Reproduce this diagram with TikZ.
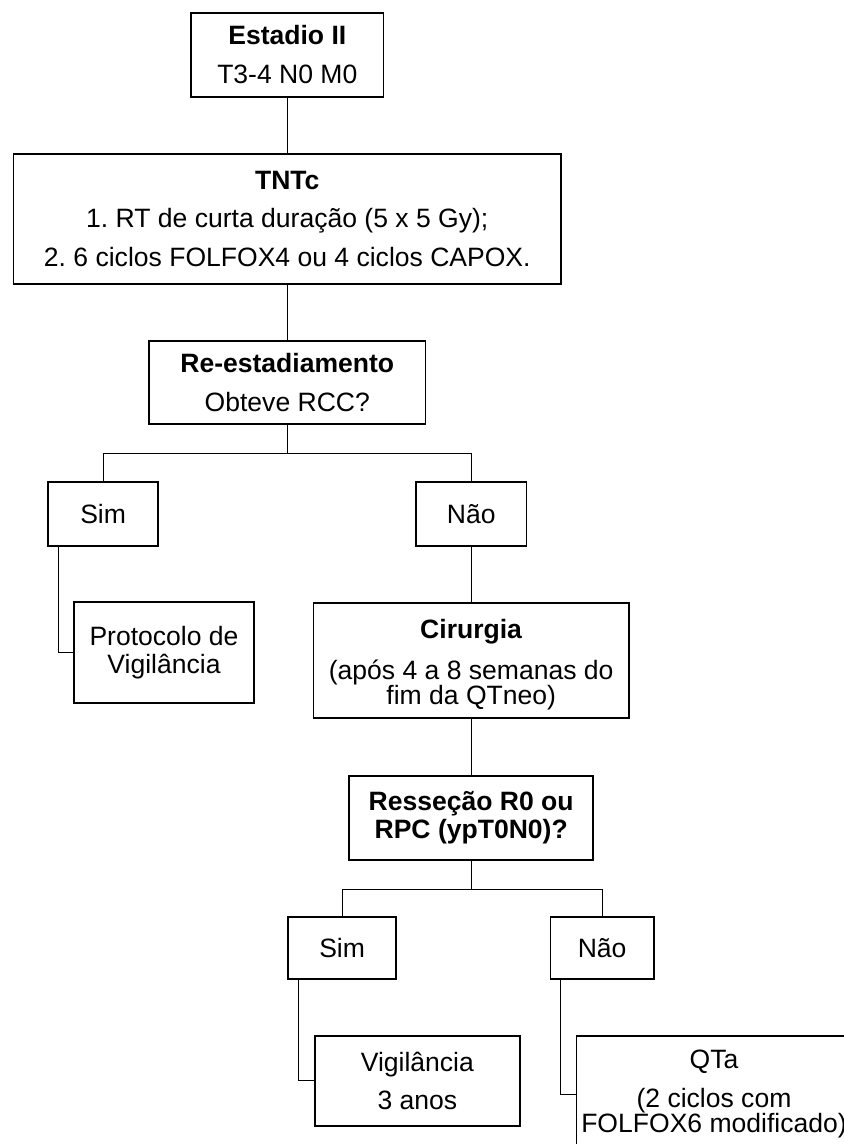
\documentclass[tikz,border=0pt]{standalone}
\usepackage{fontspec}
\setmainfont{Liberation Sans}
\usepackage{tikz}
\frenchspacing

\begin{document}
\begin{tikzpicture}[
	caixa/.style={draw,line width=0.95pt,align=center,inner sep=0pt,font=\fontsize{15.1pt}{21.9pt}\selectfont},
	liga/.style={line width=0.5pt}]
	\useasboundingbox (0,0) rectangle (16.88,-22.88);

	%top boxes
	\node[caixa,minimum width=3.844cm,minimum height=1.68cm]	(estadio) at (5.746,-1.094)	{\textbf{Estadio II}\\T3-4 N0 M0};
	\node[caixa,minimum width=10.952cm,minimum height=2.594cm]	(tntc) at (5.746,-4.377)	{\textbf{TNTc}\\1. RT de curta duração (5 x 5 Gy);\\2. 6 ciclos FOLFOX4 ou 4 ciclos CAPOX.};
	\node[caixa,minimum width=5.524cm,minimum height=1.672cm]	(reest) at (5.746,-7.65)	{\textbf{Re-estadiamento}\\Obteve RCC?};

	%first answer
	\node[caixa,minimum width=2.208cm,minimum height=1.28cm]	(sim1) at (2.062,-10.274)	{Sim};
	\node[caixa,minimum width=2.208cm,minimum height=1.28cm]	(nao1) at (9.424,-10.274)	{Não};
	\node[caixa,minimum width=3.608cm,minimum height=2.014cm]	(prot) at (3.28,-13.053)	{Protocolo de\\[-5.5pt]Vigilância};
	\node[caixa,minimum width=6.312cm,minimum height=2.3cm]	(cir) at (9.424,-13.204)	{\rule{0pt}{16pt}\textbf{Cirurgia}\\[1.8pt](após 4 a 8 semanas do\\[-7.7pt]fim da QTneo)};	%text sits a bit low
	\node[caixa,minimum width=4.876cm,minimum height=1.686cm]	(ress) at (9.424,-16.357)	{\textbf{Resseção R0 ou}\\[-5.7pt]\textbf{RPC (ypT0N0)?}};

	%second answer
	\node[caixa,minimum width=2.164cm,minimum height=1.234cm]	(sim2) at (6.842,-18.963)	{Sim};
	\node[caixa,minimum width=2.068cm,minimum height=1.234cm]	(nao2) at (12.042,-18.963)	{Não};
	\node[caixa,minimum width=4.094cm,minimum height=1.794cm]	(vig) at (8.347,-21.617)	{Vigilância\\3 anos};
	\node[caixa,minimum width=5.5cm,minimum height=2.32cm]	(qta) at (14.28,-21.88)	{QTa\\(2 ciclos com\\[-7.7pt]FOLFOX6 modificado)};	%runs off the page

	%connectors
	\coordinate (j1) at (5.746,-9.066);
	\coordinate (j2) at (9.424,-17.78);
	\draw[liga] (estadio.south) -- (tntc.north);
	\draw[liga] (tntc.south) -- (reest.north);
	\draw[liga] (reest.south) -- (j1) -| (sim1.north);
	\draw[liga] (j1) -| (nao1.north);
	\draw[liga] ([xshift=0.226cm]sim1.south west) |- (prot.west);	%to vigilance
	\draw[liga] (nao1.south) -- (cir.north);
	\draw[liga] (cir.south) -- (ress.north);
	\draw[liga] (ress.south) -- (j2) -| (sim2.north);
	\draw[liga] (j2) -| (nao2.north);
	\draw[liga] ([xshift=0.226cm]sim2.south west) |- (vig.west);
	\draw[liga] ([xshift=0.226cm]nao2.south west) |- (qta.west);
\end{tikzpicture}
\end{document}
